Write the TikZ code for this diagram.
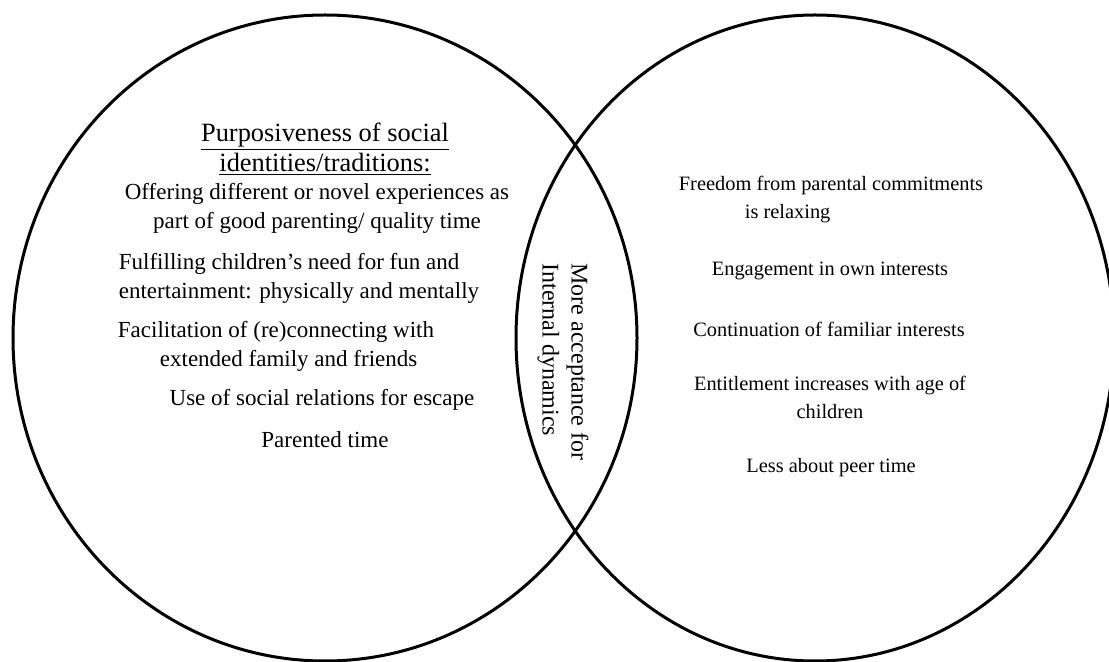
\documentclass[tikz,border=0pt]{standalone}
\usepackage{fontspec}
\setmainfont{Liberation Serif}
\begin{document}
\begin{tikzpicture}[x=0.5pt, y=-0.5pt,
  item/.style={font=\fontsize{11.5}{14.5}\selectfont, inner sep=0pt, align=center},
  ritem/.style={font=\fontsize{10.2}{14}\selectfont, inner sep=0pt, align=center},
  head/.style={font=\fontsize{13.2}{15}\selectfont, inner sep=0pt, align=center}]
\useasboundingbox (0,0) rectangle (1109,662);
\clip (0,0) rectangle (1109,662);

\draw[line width=1.5pt] (325,338) ellipse [x radius=156pt, y radius=161.5pt];
\draw[line width=1.5pt] (815,338) ellipse [x radius=149.5pt, y radius=161.5pt];

\node[head] (title) at (325,149) {\underline{Purposiveness of social}\\\underline{identities/traditions:}};

\node[item] (offer) at (317,208) {Offering different or novel experiences as\\part of good parenting/ quality time};
\node[item, align=left] (fun) at (299,278) {Fulfilling children's need for fun and\\entertainment: physically and mentally};
\node[item, align=left] (family) at (276,346) {Facilitation of (re)connecting with\\\hspace*{21pt}extended family and friends};
\node[item] (escape) at (322,400) {Use of social relations for escape};
\node[item] (parented) at (325,440) {Parented time};

\node[item, font=\fontsize{12}{14.5}\selectfont, align=left, rotate=-90] (middle) at (563,362) {More acceptance for\\Internal dynamics};

\node[ritem, align=left] (freedom) at (831,200) {Freedom from parental commitments\\\hspace*{33pt}is relaxing};
\node[ritem] (engage) at (830,271) {Engagement in own interests};
\node[ritem] (familiar) at (829,329) {Continuation of familiar interests};
\node[ritem] (entitle) at (830,397) {Entitlement increases with age of\\children};
\node[ritem] (peer) at (831,468) {Less about peer time};
\end{tikzpicture}
\end{document}
